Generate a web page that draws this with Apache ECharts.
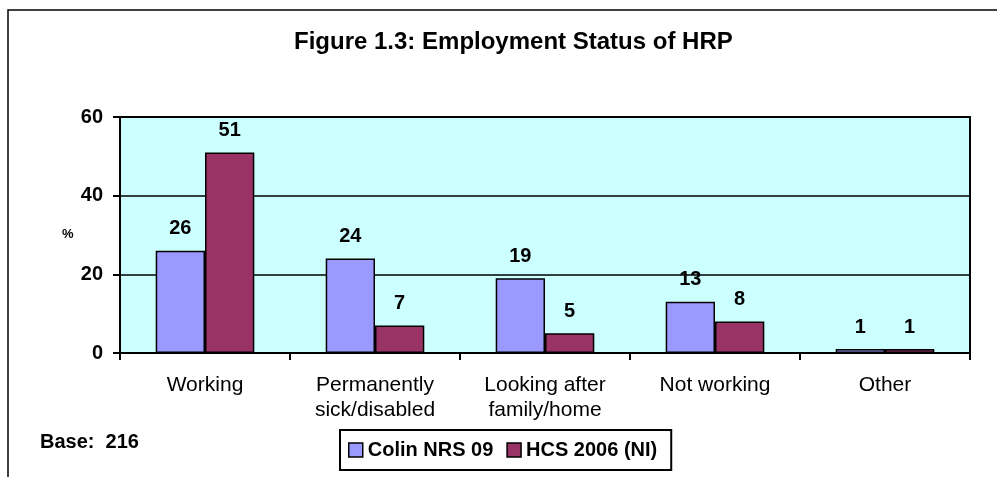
<!DOCTYPE html>
<html lang="en">
<head>
  <meta charset="UTF-8" />
  <title>Figure 1.3: Employment Status of HRP</title>
  <script src="https://cdn.jsdelivr.net/npm/echarts@6/dist/echarts.min.js"></script>
  <style>
    body { margin: 0; background: #fff; }
    #chart { width: 997px; height: 477px; }
  </style>
</head>
<body>
  <div id="chart"></div>
  <script>
    // data
    const categories = ['Working', 'Permanently\nsick/disabled', 'Looking after\nfamily/home', 'Not working', 'Other'];
    const colinNrs = [26, 24, 19, 13, 1];
    const hcs2006 = [51, 7, 5, 8, 1];
    const yTicks = [0, 20, 40, 60];

    const chart = echarts.init(document.getElementById('chart'));
    const font = 'Arial, "Liberation Sans", sans-serif';

    const barLabel = {
      show: true,
      position: 'top',
      distance: 12,
      color: '#000',
      fontFamily: font,
      fontWeight: 'bold',
      fontSize: 20
    };

    chart.setOption({
      animation: false,
      title: {
        text: 'Figure 1.3: Employment Status of HRP',
        left: 294,
        top: 30,
        padding: 0,
        textStyle: { fontFamily: font, fontWeight: 'bold', fontSize: 24, color: '#000' }
      },
      graphic: [
        {
          type: 'rect',
          shape: { x: 8, y: 10, width: 1000, height: 480 },
          style: { fill: 'none', stroke: '#000', lineWidth: 1.5 },
          silent: true
        },
        {
          type: 'text',
          left: 40,
          top: 432,
          style: { text: 'Base:  216', font: 'bold 20px ' + font, fill: '#000' }
        },
        {
          type: 'text',
          left: 62,
          top: 228,
          style: { text: '%', font: 'bold 13px ' + font, fill: '#000' }
        }
      ],
      legend: {
        data: ['Colin NRS 09', 'HCS 2006 (NI)'],
        left: 340,
        top: 430,
        padding: [10, 14, 10, 8],
        itemGap: 13,
        itemWidth: 14,
        itemHeight: 14,
        borderColor: '#000',
        borderWidth: 2,
        backgroundColor: '#fff',
        icon: 'rect',
        itemStyle: { borderColor: '#000', borderWidth: 1.5 },
        textStyle: { fontFamily: font, fontWeight: 'bold', fontSize: 20, color: '#000', padding: [0, 0, 0, 0] }
      },
      grid: {
        left: 120,
        right: 27,
        top: 117,
        bottom: 124,
        show: true,
        backgroundColor: '#CCFFFF',
        borderColor: '#000',
        borderWidth: 2
      },
      xAxis: {
        type: 'category',
        data: categories,
        boundaryGap: true,
        axisLine: { lineStyle: { color: '#000', width: 2 } },
        axisTick: { show: true, length: 7, lineStyle: { color: '#000', width: 2 } },
        axisLabel: {
          color: '#000',
          fontFamily: font,
          fontSize: 21,
          lineHeight: 25,
          margin: 20,
          interval: 0
        }
      },
      yAxis: {
        type: 'value',
        min: yTicks[0],
        max: yTicks[yTicks.length - 1],
        interval: 20,
        axisLine: { show: true, lineStyle: { color: '#000', width: 2 } },
        axisTick: { show: true, length: 7, lineStyle: { color: '#000', width: 2 } },
        axisLabel: {
          color: '#000',
          fontFamily: font,
          fontWeight: 'bold',
          fontSize: 20,
          margin: 17
        },
        splitLine: { show: true, lineStyle: { color: '#000', width: 1.5 } }
      },
      series: [
        {
          name: 'Colin NRS 09',
          type: 'bar',
          data: colinNrs,
          barGap: '0%',
          barCategoryGap: '42%',
          itemStyle: { color: '#9999FF', borderColor: '#000', borderWidth: 1.5 },
          label: barLabel
        },
        {
          name: 'HCS 2006 (NI)',
          type: 'bar',
          data: hcs2006,
          itemStyle: { color: '#993366', borderColor: '#000', borderWidth: 1.5 },
          label: barLabel
        }
      ]
    });
  </script>
</body>
</html>
